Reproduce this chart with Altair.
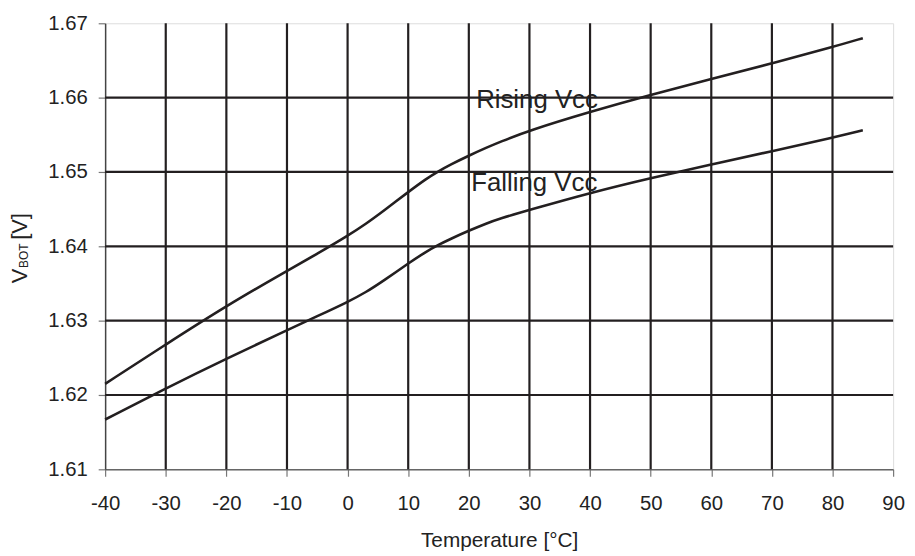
import altair as alt
import pandas as pd

# ---- data ----
temps = [-40, -30, -20, -10, -5, 0, 3, 6, 10, 13, 15, 17, 20, 23, 25, 30,
         40, 50, 60, 70, 80, 85]
rising = [1.6215, 1.6268, 1.6320, 1.6367, 1.6390, 1.6414, 1.6430, 1.6448,
          1.6473, 1.6491, 1.6501, 1.6510, 1.6522, 1.6533, 1.6540, 1.6556,
          1.6581, 1.6604, 1.6625, 1.6646, 1.6668, 1.6680]
falling = [1.6167, 1.6209, 1.6249, 1.6287, 1.6306, 1.6325, 1.6338, 1.6354,
           1.6377, 1.6393, 1.6402, 1.6410, 1.6421, 1.6431, 1.6437, 1.6449,
           1.6472, 1.6492, 1.6510, 1.6528, 1.6546, 1.6556]

x_ticks = [-40, -30, -20, -10, 0, 10, 20, 30, 40, 50, 60, 70, 80, 90]
y_ticks = [1.61, 1.62, 1.63, 1.64, 1.65, 1.66, 1.67]
x_grid = [-30, -20, -10, 0, 10, 20, 30, 40, 50, 60, 70, 80]
y_grid = [1.62, 1.63, 1.64, 1.65, 1.66]

label_text = ["Rising Vcc", "Falling Vcc"]
label_x = [31.25, 30.8]
label_y = [1.65867, 1.64747]

INK = "#231f20"
TXT = "#222222"
FONT = "Liberation Sans"

lines_df = pd.DataFrame({
    "T": temps * 2,
    "V": rising + falling,
    "series": ["Rising"] * len(temps) + ["Falling"] * len(temps),
})
xg_df = pd.DataFrame({"T": x_grid})
yg_df = pd.DataFrame({"V": y_grid})
lab_df = pd.DataFrame({"T": label_x, "V": label_y, "txt": label_text})

xscale = alt.Scale(domain=[-40, 90], nice=False, zero=False)
yscale = alt.Scale(domain=[1.61, 1.67], nice=False, zero=False)

xaxis = alt.Axis(values=x_ticks, labelExpr="'' + datum.value", title="Temperature [°C]",
                 grid=False,
                 labelFontSize=20.5, labelFont=FONT, labelColor=TXT, labelPadding=18,
                 labelFlush=False, labelOverlap=False,
                 tickSize=7, tickColor="#777777", tickWidth=1.2,
                 domainColor="#666666", domainWidth=1.5,
                 titleFont=FONT, titleFontSize=21, titleFontWeight="normal",
                 titleColor=TXT, titleY=78, titleBaseline="alphabetic")
yaxis = alt.Axis(values=y_ticks, format=".2f", title=None, grid=False,
                 labelFontSize=20.5, labelFont=FONT, labelColor=TXT, labelPadding=11,
                 labelFlush=False, labelOverlap=False,
                 tickSize=7, tickColor="#777777", tickWidth=1.2,
                 domainColor="#444444", domainWidth=1.5)

vgrid = alt.Chart(xg_df).mark_rule(color=INK, strokeWidth=2.2).encode(
    x=alt.X("T:Q", scale=xscale, axis=xaxis))
hgrid = alt.Chart(yg_df).mark_rule(color=INK, strokeWidth=2.2).encode(
    y=alt.Y("V:Q", scale=yscale, axis=yaxis))

lines = alt.Chart(lines_df).mark_line(color=INK, strokeWidth=2.6, interpolate="basis").encode(
    x=alt.X("T:Q", scale=xscale, axis=xaxis),
    y=alt.Y("V:Q", scale=yscale, axis=yaxis),
    detail="series:N",
)

labels = alt.Chart(lab_df).mark_text(font=FONT, fontSize=26, color=TXT, align="center",
                                     baseline="alphabetic").encode(
    x=alt.X("T:Q", scale=xscale, axis=xaxis),
    y=alt.Y("V:Q", scale=yscale, axis=yaxis),
    text="txt:N",
)

def ytitle_piece(s, xv, yv, size):
    return alt.Chart(pd.DataFrame({"s": [s]})).mark_text(
        font=FONT, fontSize=size, color=TXT, angle=270, align="center",
        baseline="alphabetic").encode(x=alt.value(xv), y=alt.value(yv), text="s:N")

yt_v = ytitle_piece("V", -79.3, 255, 22)
yt_bot = ytitle_piece("BOT", -77.5, 234.5, 12)
yt_unit = ytitle_piece("[V]", -79.3, 205, 22)

chart = alt.layer(vgrid, hgrid, lines, labels, yt_v, yt_bot, yt_unit).properties(
    width=795, height=450,
    padding={"left": 98, "top": 13, "right": 14, "bottom": 80},
    autosize=alt.AutoSizeParams(type="none"),
).configure_view(stroke="#9a9a9a", strokeWidth=2.5).configure(background="white")

chart.save("out.html", embed_options={"renderer": "svg", "actions": False})
